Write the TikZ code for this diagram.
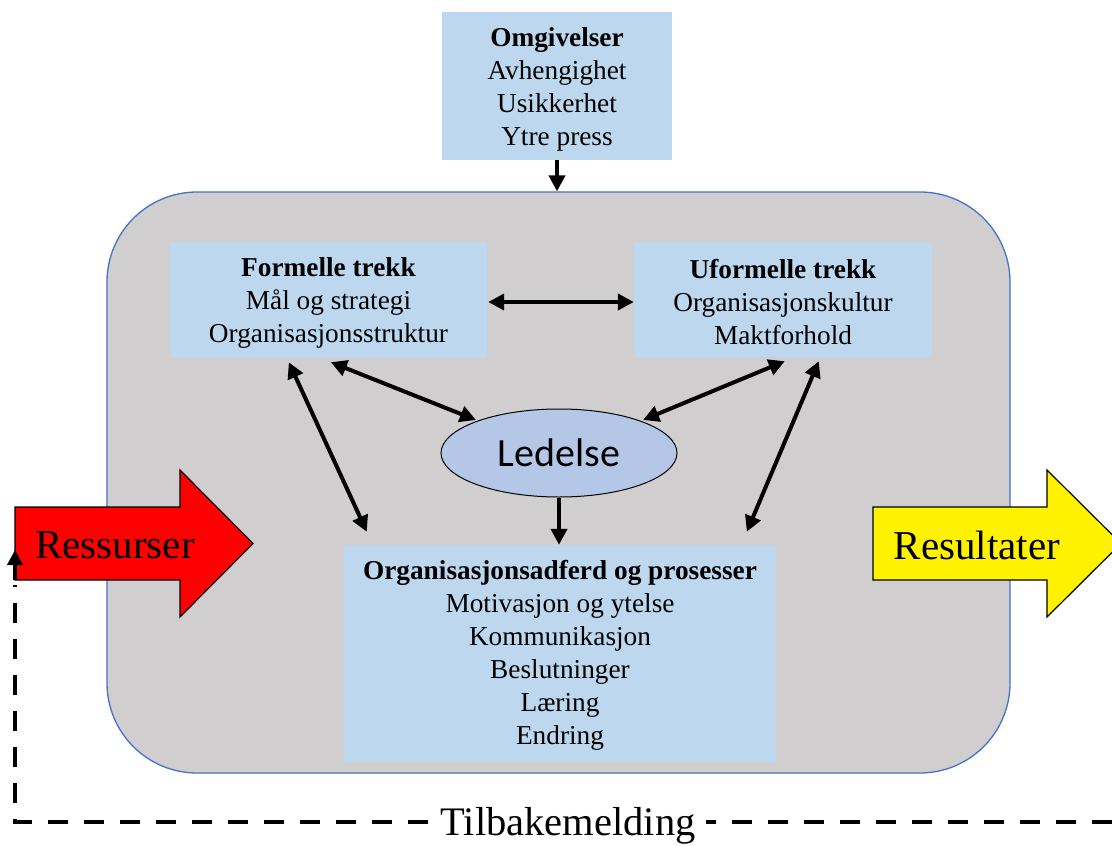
\documentclass[tikz,border=0pt]{standalone}
\usepackage{fontspec}
\setmainfont{Liberation Serif}
\newfontfamily\ledfont{Carlito}
\usetikzlibrary{arrows.meta,calc,shapes.geometric}
\definecolor{boxblue}{HTML}{BDD7EE}
\definecolor{ellblue}{HTML}{B4C7E7}
\definecolor{panelgray}{HTML}{D0CECE}
\definecolor{panelline}{HTML}{4472C4}
\tikzset{
  infobox/.style={fill=boxblue, draw=none, inner sep=0pt},
  infotext/.style={align=center, inner sep=0pt, font=\fontsize{27.3}{33}\selectfont},
  bigarrow/.style={draw=black, line width=1.2pt, line join=miter},
  bigtext/.style={font=\fontsize{41}{48}\selectfont, inner sep=0pt},
  tip/.tip={Triangle[length=16pt,width=16pt]},
  link/.style={line width=4pt, -tip},
  duallink/.style={line width=4pt, tip-tip},
  feedback/.style={line width=4.5pt, dash pattern=on 20pt off 16pt},
}
\begin{document}
\begin{tikzpicture}[x=1pt,y=-1pt]
\useasboundingbox (0,0) rectangle (1112,846);
\clip (0,0) rectangle (1112,846);

% main organisation panel
\node[draw=panelline, line width=1.3pt, fill=panelgray, rounded corners=90pt,
  minimum width=903pt, minimum height=581pt, inner sep=0pt] (panel) at (558.5,482.5) {};

% environment box
\node[infobox, minimum width=230pt, minimum height=148pt] (omg) at (557,86) {};
\node[infotext] (omgtext) at ($(omg.center)+(0,3)$)
  {\textbf{Omgivelser}\\Avhengighet\\Usikkerhet\\Ytre press};

% formal / informal features
\node[infobox, minimum width=317pt, minimum height=115pt] (form) at (328.5,299.5) {};
\node[infotext] (formtext) at ($(form.center)+(0,3)$)
  {\textbf{Formelle trekk}\\Mål og strategi\\Organisasjonsstruktur};
\node[infobox, minimum width=298pt, minimum height=115pt] (uform) at (783,299.5) {};
\node[infotext] (uformtext) at ($(uform.center)+(0,3)$)
  {\textbf{Uformelle trekk}\\Organisasjonskultur\\Maktforhold};

% leadership
\node[ellipse, draw=black, line width=1pt, fill=ellblue, minimum width=236pt,
  minimum height=88pt, inner sep=0pt, font=\ledfont\fontsize{40}{48}\selectfont]
  (led) at (559,453) {Ledelse};

% behaviour and processes
\node[infobox, minimum width=432pt, minimum height=217pt] (org) at (560,653.5) {};
\node[infotext] (orgtext) at ($(org.center)+(0,2)$)
  {\textbf{Organisasjonsadferd og prosesser}\\Motivasjon og ytelse\\Kommunikasjon\\Beslutninger\\Læring\\Endring};

% input and output arrows
\draw[bigarrow, fill=red] (15,507) -- (180,507) -- (180,470) -- (253,543.5)
  -- (180,617) -- (180,580) -- (15,580) -- cycle;
\node[bigtext] (res) at (115,545) {Ressurser};
\draw[bigarrow, fill=yellow] (873,507) -- (1047,507) -- (1047,470) -- (1121,543.5)
  -- (1047,617) -- (1047,580) -- (873,580) -- cycle;
\node[bigtext] (out) at (977,545) {Resultater};

% connectors
\draw[link] (omg.south) -- (panel.north -| omg.south);
\draw[duallink] ($(form.east)+(1,2.5)$) -- ($(uform.west)+(0,2.5)$);
\draw[duallink] ($(form.south west)+(161,5)$) -- ($(led.center)+(-83,-33)$);
\draw[duallink] ($(uform.south west)+(151,4)$) -- ($(led.center)+(84,-33)$);
\draw[duallink] ($(form.south west)+(119,5)$) -- ($(org.north west)+(23,-13)$);
\draw[duallink] ($(uform.south west)+(185,4)$) -- ($(org.north west)+(403,-13)$);
\draw[link] (led.south) -- (org.north -| led.south);

% feedback loop
\coordinate (fbright) at (1112,822);
\coordinate (fbcorner) at (15,822);
\coordinate (fbend) at (15,550);
\draw[feedback] (fbright) -- (fbcorner) -- ($(fbend)+(0,35)$);
\draw[line width=4pt, -{Triangle[length=15pt,width=15pt]}] ($(fbend)+(0,30)$) -- (fbend);
\node[fill=white, inner xsep=10pt, inner ysep=0pt, font=\fontsize{40.5}{46}\selectfont]
  (fbtext) at (568,826) {Tilbakemelding};
\end{tikzpicture}
\end{document}
